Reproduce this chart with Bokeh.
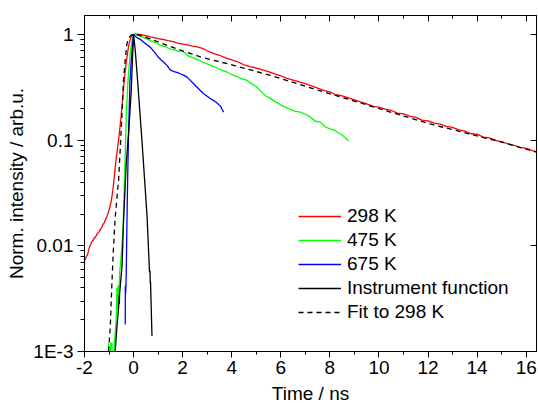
from bokeh.plotting import figure
from bokeh.models import (FixedTicker, CustomJSTickFormatter, LinearAxis, LogAxis,
                          Legend, LegendItem, Range1d)
from bokeh.embed import file_html
from bokeh.resources import INLINE

# ---------------- data ----------------
t_298 = [-2.00, -1.97, -1.93, -1.88, -1.84, -1.80, -1.75, -1.70, -1.65, -1.60, -1.55, -1.50,
         -1.45, -1.40, -1.35, -1.30, -1.25, -1.20, -1.15, -1.10, -1.05, -1.00, -0.95, -0.90,
         -0.85, -0.80, -0.75, -0.70, -0.65, -0.60, -0.55, -0.50, -0.45, -0.40, -0.35, -0.30,
         -0.25, -0.20, -0.15, -0.10, -0.05, 0.00, 0.10, 0.20, 0.30, 0.40, 0.55, 0.70, 0.85,
         1.00, 1.20, 1.40, 1.60, 1.80, 2.00, 2.20, 2.40, 2.60, 2.80, 3.00, 3.25, 3.50, 3.75,
         4.00, 4.25, 4.50, 4.75, 5.00, 5.25, 5.50, 5.75, 6.00, 6.25, 6.50, 6.75, 7.00, 7.25,
         7.50, 7.75, 8.00, 8.25, 8.50, 8.75, 9.00, 9.25, 9.50, 9.75, 10.00, 10.25, 10.50,
         10.75, 11.00, 11.25, 11.50, 11.75, 12.00, 12.25, 12.50, 12.75, 13.00, 13.25, 13.50,
         13.75, 14.00, 14.25, 14.50, 14.75, 15.00, 15.25, 15.50, 15.75, 16.00, 16.25, 16.50]
v_298 = [0.0072, 0.0074, 0.0079, 0.0082, 0.0089, 0.0097, 0.0103, 0.0110, 0.0112, 0.0119,
         0.0121, 0.0128, 0.0132, 0.0137, 0.0143, 0.0149, 0.0159, 0.0165, 0.0176, 0.0185,
         0.0201, 0.0217, 0.0241, 0.0274, 0.033, 0.042, 0.055, 0.070, 0.085, 0.105, 0.135,
         0.175, 0.24, 0.33, 0.43, 0.54, 0.66, 0.78, 0.88, 0.95, 0.985, 1.0, 1.008, 1.003,
         0.995, 0.987, 0.968, 0.948, 0.932, 0.915, 0.897, 0.873, 0.856, 0.828, 0.812, 0.796,
         0.778, 0.762, 0.738, 0.702, 0.662, 0.636, 0.601, 0.574, 0.552, 0.516, 0.497, 0.481,
         0.463, 0.446, 0.424, 0.407, 0.384, 0.371, 0.356, 0.343, 0.326, 0.311, 0.296, 0.286,
         0.269, 0.263, 0.251, 0.241, 0.230, 0.221, 0.209, 0.205, 0.197, 0.191, 0.180, 0.177,
         0.169, 0.164, 0.155, 0.152, 0.145, 0.142, 0.135, 0.132, 0.125, 0.122, 0.115, 0.114,
         0.107, 0.105, 0.0995, 0.0965, 0.0925, 0.0895, 0.0855, 0.0835, 0.0795, 0.0770]

t_475 = [-1.02, -1.00, -0.95, -0.93, -0.88, -0.86, -0.80, -0.78, -0.74, -0.70, -0.68, -0.66,
         -0.63, -0.61, -0.57, -0.52, -0.47, -0.42, -0.38, -0.34, -0.30, -0.25, -0.20, -0.14,
         -0.07, 0.00, 0.10, 0.27, 0.45, 0.68, 0.90, 1.10, 1.30, 1.50, 1.70, 1.85, 1.95, 2.05,
         2.20, 2.40, 2.60, 2.80, 3.00, 3.20, 3.40, 3.60, 3.80, 4.00, 4.20, 4.40, 4.60, 4.80,
         5.00, 5.20, 5.40, 5.60, 5.80, 6.00, 6.20, 6.40, 6.60, 6.80, 7.00, 7.20, 7.40, 7.60,
         7.80, 8.00, 8.20, 8.35, 8.50, 8.65, 8.76]
v_475 = [0.0012, 0.0008, 0.0008, 0.0012, 0.0012, 0.0008, 0.0008, 0.0012, 0.0016, 0.0022,
         0.0040, 0.0025, 0.0042, 0.0030, 0.0055, 0.0072, 0.0105, 0.017, 0.035, 0.075, 0.16,
         0.30, 0.45, 0.65, 0.85, 1.0, 0.99, 0.965, 0.93, 0.875, 0.835, 0.79, 0.762, 0.728,
         0.712, 0.688, 0.703, 0.685, 0.632, 0.604, 0.578, 0.552, 0.528, 0.503, 0.482, 0.458,
         0.442, 0.418, 0.402, 0.383, 0.371, 0.343, 0.322, 0.288, 0.262, 0.246, 0.229, 0.216,
         0.204, 0.196, 0.187, 0.184, 0.176, 0.166, 0.151, 0.149, 0.134, 0.128, 0.124, 0.117,
         0.112, 0.104, 0.099]

t_675 = [-0.34, -0.335, -0.32, -0.30, -0.27, -0.24, -0.21, -0.15, -0.08, 0.00, 0.05, 0.15,
         0.27, 0.45, 0.68, 0.85, 0.96, 1.10, 1.25, 1.36, 1.50, 1.65, 1.80, 1.91, 2.05, 2.18,
         2.30, 2.45, 2.60, 2.75, 2.86, 3.00, 3.15, 3.27, 3.40, 3.54, 3.60, 3.67]
v_675 = [0.0018, 0.0042, 0.0036, 0.0052, 0.017, 0.045, 0.10, 0.35, 0.65, 1.0, 0.97, 0.93,
         0.90, 0.83, 0.76, 0.68, 0.63, 0.58, 0.54, 0.51, 0.46, 0.445, 0.435, 0.425, 0.41,
         0.395, 0.37, 0.342, 0.315, 0.29, 0.275, 0.26, 0.245, 0.237, 0.225, 0.21, 0.197, 0.184]

t_irf = [-0.75, -0.68, -0.61, -0.59, -0.58, -0.57, -0.47, -0.41, -0.30, -0.20, -0.10, -0.05,
         0.00, 0.07, 0.17, 0.34, 0.55, 0.65, 0.67, 0.68, 0.69, 0.75]
v_irf = [0.0010, 0.0017, 0.0026, 0.0034, 0.0028, 0.0035, 0.0065, 0.017, 0.06, 0.12, 0.28,
         0.55, 1.0, 0.7, 0.35, 0.10, 0.019, 0.0056, 0.0058, 0.0044, 0.0046, 0.0014]

t_fit = [-1.02, -0.95, -0.88, -0.82, -0.75, -0.68, -0.61, -0.54, -0.47, -0.41, -0.34, -0.27,
         -0.20, -0.13, -0.07, 0.00, 0.10, 0.20, 0.35, 0.50, 0.68, 1.00, 1.50, 2.00, 2.72,
         3.40, 4.08, 4.80, 5.58, 6.20, 6.86, 7.50, 8.22, 8.90, 9.58, 10.25, 10.94, 11.60,
         12.30, 13.00, 13.66, 14.30, 15.02, 15.70, 16.44]
v_fit = [0.0010, 0.0017, 0.0046, 0.0095, 0.0185, 0.028, 0.042, 0.086, 0.178, 0.367, 0.58,
         0.82, 0.92, 0.97, 0.995, 1.0, 1.0, 0.99, 0.965, 0.94, 0.91, 0.85, 0.77, 0.70, 0.615,
         0.56, 0.51, 0.46, 0.41, 0.37, 0.332, 0.298, 0.265, 0.238, 0.213, 0.191, 0.171, 0.154,
         0.138, 0.126, 0.115, 0.105, 0.096, 0.086, 0.077]

x_ticks = [-2, 0, 2, 4, 6, 8, 10, 12, 14, 16]
x_minor = [-1, 1, 3, 5, 7, 9, 11, 13, 15]
y_ticks = [0.001, 0.01, 0.1, 1]
y_minor = [m * d for d in (0.001, 0.01, 0.1) for m in range(2, 10)]

series_labels = ["298 K", "475 K", "675 K", "Instrument function", "Fit to 298 K"]

# ---------------- figure ----------------
FONT = "Liberation Sans"
FS = "19px"

p = figure(width=538, height=409, output_backend="svg", toolbar_location=None,
           y_axis_type="log",
           x_range=Range1d(-2, 16.42), y_range=Range1d(0.001, 1.513),
           min_border_left=84, min_border_right=2, min_border_top=15, min_border_bottom=58)
p.background_fill_color = "white"
p.border_fill_color = "white"
p.outline_line_color = "black"
p.outline_line_width = 1
p.xgrid.visible = False
p.ygrid.visible = False

ylab_js = """
const e = Math.round(Math.log10(tick));
if (e == 0) return "1";
if (e == -1) return "0.1";
if (e == -2) return "0.01";
return "1E" + e;
"""
xlab_js = "return Math.round(tick).toString();"

xa = p.xaxis[0]
xa.ticker = FixedTicker(ticks=x_ticks, minor_ticks=x_minor)
xa.formatter = CustomJSTickFormatter(code=xlab_js)
xa.axis_label = "Time / ns"
ya = p.yaxis[0]
ya.ticker = FixedTicker(ticks=y_ticks, minor_ticks=y_minor)
ya.formatter = CustomJSTickFormatter(code=ylab_js)
ya.axis_label = "Norm. intensity / arb.u."

for ax in (xa, ya):
    ax.axis_label_text_font = FONT
    ax.axis_label_text_font_size = FS
    ax.axis_label_text_font_style = "normal"
    ax.axis_label_text_color = "black"
    ax.major_label_text_font = FONT
    ax.major_label_text_font_size = FS
    ax.major_label_text_color = "black"
    ax.axis_line_color = "black"
    ax.major_tick_line_color = "black"
    ax.minor_tick_line_color = "black"
    ax.major_tick_in = 0
    ax.minor_tick_in = 0
xa.major_tick_out = 6
xa.minor_tick_out = 3
xa.major_label_standoff = 3
xa.axis_label_standoff = 6
ya.major_tick_out = 7
ya.minor_tick_out = 4
ya.major_label_standoff = 4
ya.axis_label_standoff = 3

# mirrored axes (top / right), ticks pointing inward, no labels
blank = CustomJSTickFormatter(code="return '';")
top = LinearAxis(ticker=FixedTicker(ticks=x_ticks, minor_ticks=x_minor),
                 formatter=blank, major_label_text_font_size="1px", major_label_standoff=0,
                 major_tick_in=6, major_tick_out=0, minor_tick_in=3, minor_tick_out=0,
                 axis_line_color="black")
right = LogAxis(ticker=FixedTicker(ticks=y_ticks, minor_ticks=[]),
                formatter=CustomJSTickFormatter(code="return '';"),
                major_label_text_font_size="1px", major_label_standoff=0,
                major_tick_in=6, major_tick_out=0, minor_tick_in=0, minor_tick_out=0,
                axis_line_color="black")
p.add_layout(top, "above")
p.add_layout(right, "right")

# ---------------- lines ----------------
LW = 1.3
r298 = p.line(t_298, v_298, line_color="#FF0000", line_width=LW)
r475 = p.line(t_475, v_475, line_color="#00FF00", line_width=LW)
r675 = p.line(t_675, v_675, line_color="#0000FF", line_width=LW)
rirf = p.line(t_irf, v_irf, line_color="black", line_width=LW)
rfit = p.line(t_fit, v_fit, line_color="black", line_width=LW, line_dash="5 4")

legend = Legend(items=[LegendItem(label=series_labels[0], renderers=[r298]),
                       LegendItem(label=series_labels[1], renderers=[r475]),
                       LegendItem(label=series_labels[2], renderers=[r675]),
                       LegendItem(label=series_labels[3], renderers=[rirf]),
                       LegendItem(label=series_labels[4], renderers=[rfit])],
                location=(214, 27))
legend.border_line_color = None
legend.background_fill_alpha = 0
legend.padding = 0
legend.margin = 0
legend.spacing = 0
legend.glyph_width = 43
legend.glyph_height = 24
legend.label_height = 24
legend.label_standoff = 6
legend.label_text_font = FONT
legend.label_text_font_size = FS
legend.label_text_color = "black"
p.add_layout(legend)

open("out.html", "w").write(file_html(p, INLINE))
